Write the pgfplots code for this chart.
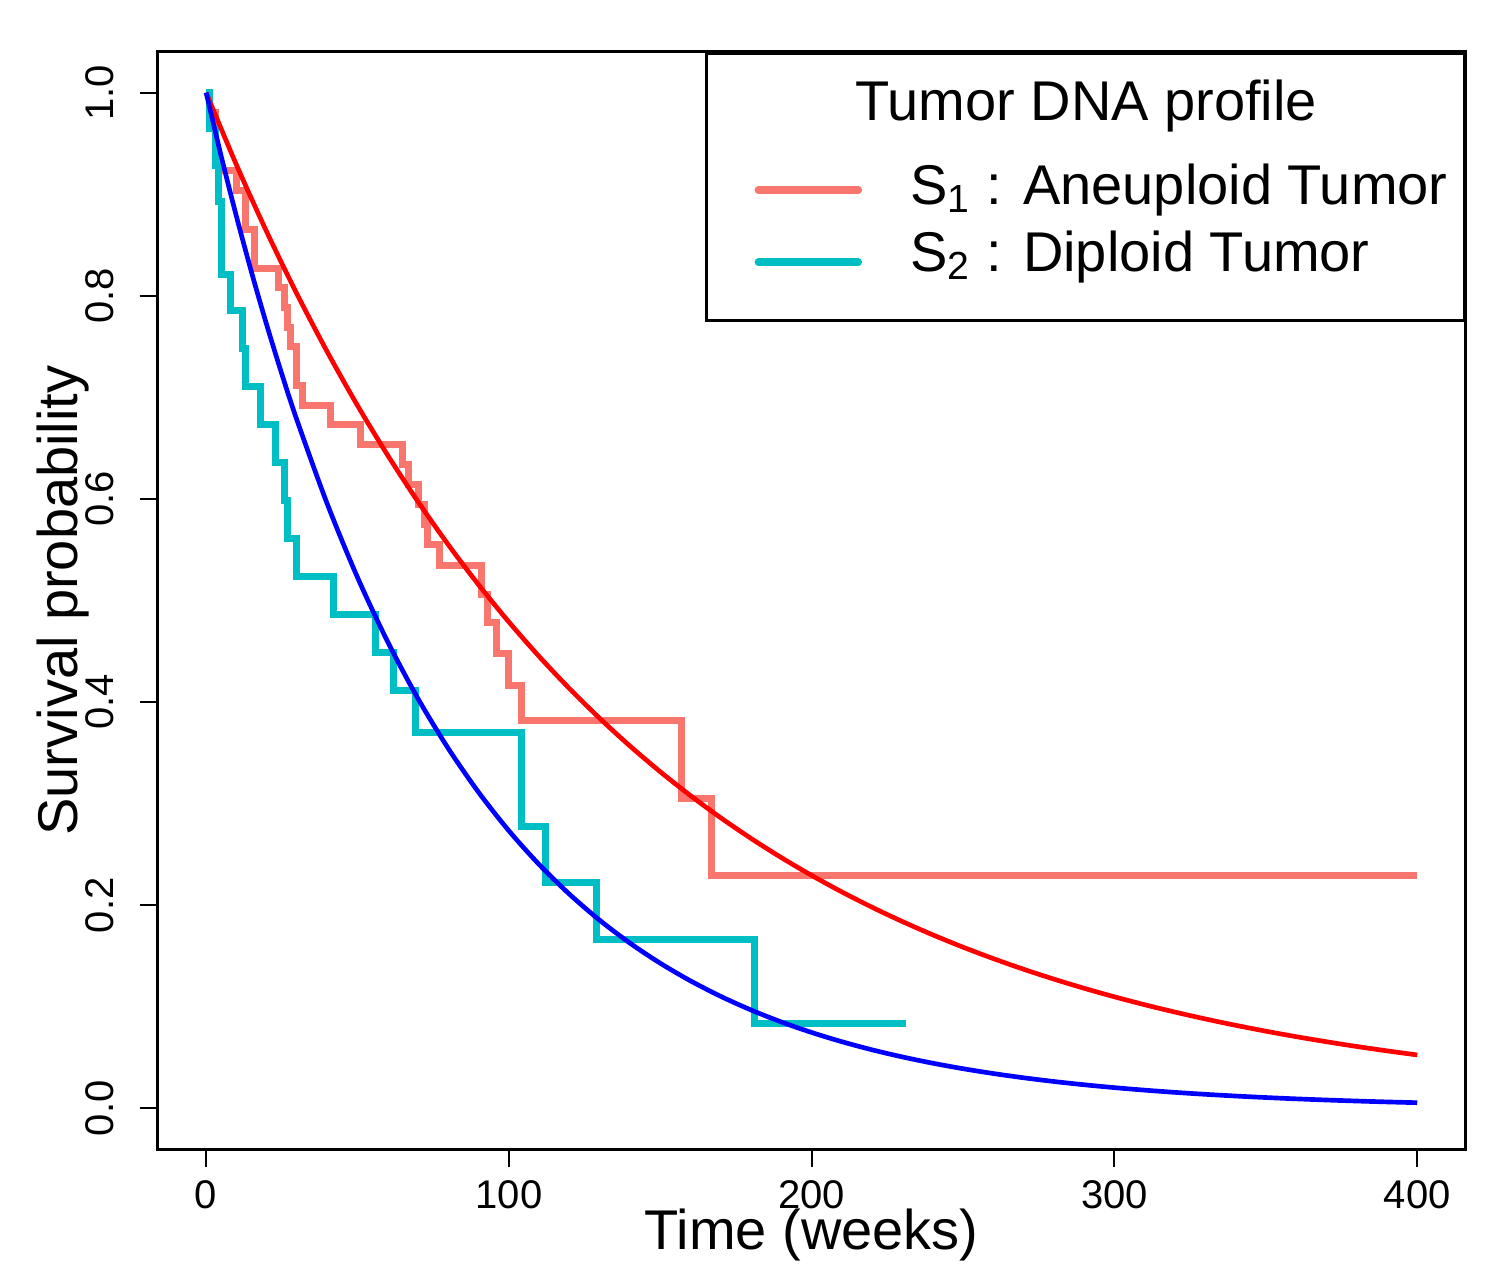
\documentclass[border=0pt]{standalone}
\usepackage{fontspec}
\setmainfont{Liberation Sans}
\usepackage{pgfplots}
\pgfplotsset{compat=1.18}
\definecolor{salmon}{HTML}{F8766D}
\definecolor{turq}{HTML}{00BFC4}
\newcommand{\legfont}{\fontsize{16.8bp}{20bp}\selectfont}
\newcommand{\tickfont}{\fontsize{12bp}{14bp}\selectfont}
\pgfplotsset{
  legline/.style={legend image code/.code={%
      \path[draw=none] (0bp,0bp) -- (9.3bp,0bp);
      \draw[##1, line width=2.3bp, line cap=round] (10.45bp,0bp) -- (40.4bp,0bp);}},
}
\begin{document}
\begin{tikzpicture}
\path[use as bounding box] (-47.3bp,-41.7bp) rectangle (399.7bp,344.7bp);
\begin{axis}[
  scale only axis, width=392.4bp, height=329.1bp,
  xmin=-16, xmax=416, ymin=-0.04, ymax=1.04,
  axis line style={line width=0.9bp},
  xtick={0,100,200,300,400},
  ytick={0,0.2,0.4,0.6,0.8,1.0},
  tick pos=left, tick align=outside, major tick length=5.4bp,
  tick style={line width=0.6bp, black},
  /pgf/number format/assume math mode=true,
  ticklabel style={font=\tickfont},
  yticklabel style={rotate=90, anchor=base, /pgf/number format/.cd, fixed, fixed zerofill, precision=1},
  xticklabel style={anchor=base},
  yticklabel shift=7.8bp,
  xticklabel shift=12.3bp,
  xlabel={Time (weeks)},
  ylabel={Survival probability},
  xlabel style={at={(axis description cs:0.5,-0.0915)}, anchor=base, font=\legfont},
  ylabel style={at={(axis description cs:-0.0612,0.5)}, anchor=base, font=\legfont},
  legend style={at={(1,1)}, anchor=north east, draw=black, line width=0.9bp, fill=white,
    inner xsep=5bp, inner ysep=8bp, row sep=4.6bp, column sep=14.5bp, font=\legfont,
    nodes={inner sep=0pt, text height=12bp, text depth=3.5bp}},
  legend cell align=left,
]
% Kaplan-Meier: aneuploid
\addplot[const plot, salmon, line width=2.1bp, forget plot] coordinates {
(0,1) (1,0.98077) (3,0.94231) (4,0.92308) (10,0.90385) (13,0.86538) (16,0.82692)
(24,0.80769) (26,0.78846) (27,0.76923) (28,0.75000) (30,0.71154) (32,0.69231)
(41,0.67308) (51,0.65385) (65,0.63403) (67,0.61422) (70,0.59440) (72,0.57459)
(73,0.55478) (77,0.53423) (91,0.50611) (93,0.47799) (96,0.44812) (100,0.41611)
(104,0.38143) (157,0.30515) (167,0.22886) (400,0.22886)};
% Kaplan-Meier: diploid
\addplot[const plot, turq, line width=2.1bp, forget plot] coordinates {
(0,1) (1,0.96429) (3,0.92857) (4,0.89286) (5,0.82143) (8,0.78571) (12,0.74830)
(13,0.71088) (18,0.67347) (23,0.63605) (26,0.59864) (27,0.56122) (30,0.52381)
(42,0.48639) (56,0.44898) (62,0.41156) (69,0.37041) (104,0.27780) (112,0.22224)
(129,0.16668) (181,0.08334) (231,0.08334)};
% fitted exponential: aneuploid
\addplot[red, line width=1.4bp, smooth, forget plot] coordinates {
(0,1) (10,0.92901) (20,0.86307) (30,0.80180) (40,0.74488) (50,0.69199) (60,0.64287)
(70,0.59724) (80,0.55484) (90,0.51546) (100,0.47887) (110,0.44487) (120,0.41330)
(130,0.38396) (140,0.35670) (150,0.33138) (160,0.30786) (170,0.28600) (180,0.26570)
(190,0.24684) (200,0.22932) (210,0.21304) (220,0.19792) (230,0.18387) (240,0.17082)
(250,0.15869) (260,0.14743) (270,0.13696) (280,0.12724) (290,0.11821) (300,0.10982)
(310,0.10202) (320,0.09478) (330,0.08805) (340,0.08180) (350,0.07599) (360,0.07060)
(370,0.06559) (380,0.06093) (390,0.05661) (400,0.05259)};
% fitted exponential: diploid
\addplot[blue, line width=1.4bp, smooth, forget plot] coordinates {
(0,1) (5,0.93720) (10,0.87834) (15,0.82318) (20,0.77149) (25,0.72304) (30,0.67762)
(40,0.59519) (50,0.52278) (60,0.45917) (70,0.40331) (80,0.35425) (90,0.31115)
(100,0.27329) (110,0.24005) (120,0.21085) (130,0.18519) (140,0.16266) (150,0.14288)
(160,0.12550) (170,0.11023) (180,0.09682) (190,0.08504) (200,0.07469) (210,0.06561)
(220,0.05762) (230,0.05061) (240,0.04446) (250,0.03905) (260,0.03430) (270,0.03012)
(280,0.02646) (290,0.02324) (300,0.02041) (310,0.01793) (320,0.01575) (330,0.01383)
(340,0.01215) (350,0.01067) (360,0.00937) (370,0.00823) (380,0.00723) (390,0.00635)
(400,0.00558)};
\addlegendimage{empty legend}
\addlegendentry[text depth=8.6bp]{\hspace*{-16.5bp}Tumor DNA profile}
\addlegendimage{legline, salmon}
\addlegendentry{S\textsubscript{1} : Aneuploid Tumor}
\addlegendimage{legline, turq}
\addlegendentry[text depth=6.7bp]{S\textsubscript{2} : Diploid Tumor}
\end{axis}
\end{tikzpicture}
\end{document}
